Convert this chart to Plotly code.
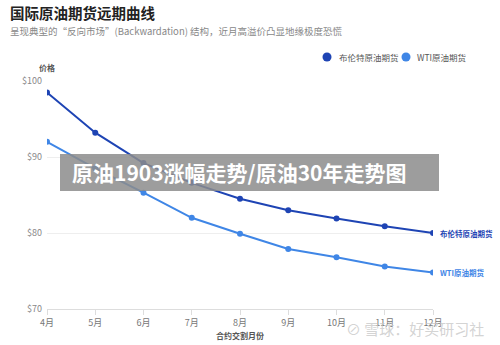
import plotly.graph_objects as go

months = ["4月", "5月", "6月", "7月", "8月", "9月", "10月", "11月", "12月"]
brent = [98.5, 93.2, 89.2, 86.6, 84.5, 83.0, 81.9, 80.9, 80.0]
wti = [92.0, 88.5, 85.3, 82.0, 79.9, 77.9, 76.8, 75.6, 74.8]
y_ticks = [70, 80, 90, 100]
y_tick_labels = ["$70", "$80", "$90", "$100"]
series_names = ["布伦特原油期货", "WTI原油期货"]

BRENT_C = "#1e44b4"
WTI_C = "#3f86e6"
FONT = "Noto Sans CJK SC"
PW, PH, L, T = 386, 228, 47, 81


def px(x):
    return (x - L) / PW


def py(y):
    return 1 - (y - T) / PH


fig = go.Figure()
fig.add_trace(go.Scatter(x=months, y=brent, mode="lines+markers", name=series_names[0],
                         line=dict(color=BRENT_C, width=2), marker=dict(size=6, color=BRENT_C),
                         showlegend=False))
fig.add_trace(go.Scatter(x=months, y=wti, mode="lines+markers", name=series_names[1],
                         line=dict(color=WTI_C, width=2), marker=dict(size=6, color=WTI_C),
                         showlegend=False))

# custom legend (top right)
for cx, tx, name, col in [(327, 337, series_names[0], BRENT_C), (406, 415, series_names[1], WTI_C)]:
    fig.add_shape(type="circle", xref="paper", yref="paper",
                  x0=px(cx - 4.5), x1=px(cx + 4.5), y0=py(57 + 4.5), y1=py(57 - 4.5),
                  fillcolor=col, line=dict(width=0))
    fig.add_annotation(xref="paper", yref="paper", x=px(tx), y=py(57), text=name,
                       showarrow=False, xanchor="left", yanchor="middle",
                       font=dict(size=8.5, color="#555555", family=FONT))

# end labels
fig.add_annotation(x=months[-1], y=brent[-1], text="<b>" + series_names[0] + "</b>", showarrow=False,
                   xanchor="left", xshift=5, font=dict(size=7.5, color=BRENT_C, family=FONT))
fig.add_annotation(x=months[-1], y=wti[-1], text="<b>" + series_names[1] + "</b>", showarrow=False,
                   xanchor="left", xshift=5, font=dict(size=7.5, color=WTI_C, family=FONT))

# titles
fig.add_annotation(xref="paper", yref="paper", x=px(8), y=py(12),
                   text="<b>国际原油期货远期曲线</b>", showarrow=False, xanchor="left", yanchor="middle",
                   font=dict(size=14.5, color="#222222", family=FONT))
fig.add_annotation(xref="paper", yref="paper", x=px(8), y=py(31),
                   text="呈现典型的“反向市场”(Backwardation) 结构，近月高溢价凸显地缘极度恐慌",
                   showarrow=False, xanchor="left", yanchor="middle",
                   font=dict(size=9.5, color="#888888", family=FONT))
fig.add_annotation(xref="paper", yref="paper", x=0, y=py(68),
                   text="<b>价格</b>", showarrow=False, xanchor="center", yanchor="middle",
                   font=dict(size=8, color="#555555", family=FONT))

# overlay banner
fig.add_shape(type="rect", xref="paper", yref="paper",
              x0=px(60), x1=px(439), y0=py(191), y1=py(154),
              fillcolor="rgba(140,140,140,0.85)", line=dict(width=0), layer="above")
fig.add_annotation(xref="paper", yref="paper", x=px(70), y=py(172),
                   text="<b>原油1903涨幅走势/原油30年走势图</b>", showarrow=False,
                   xanchor="left", yanchor="middle",
                   font=dict(size=21, color="white", family=FONT))
# watermark
fig.add_annotation(xref="paper", yref="paper", x=px(486), y=py(328),
                   text="⊘ 雪球：好买研习社", showarrow=False, xanchor="right", yanchor="middle",
                   font=dict(size=15, color="rgba(200,200,200,0.8)", family=FONT))

fig.update_layout(
    width=500, height=345,
    margin=dict(l=47, r=67, t=81, b=36, autoexpand=False),
    paper_bgcolor="white", plot_bgcolor="white",
    font=dict(family=FONT, size=9, color="#777777"),
    showlegend=False,
    xaxis=dict(showgrid=False, showline=True, linecolor="#dddddd", ticks="outside",
               ticklen=5, tickcolor="#dddddd", tickfont=dict(size=9, color="#777777"),
               range=[0, 8],
               title=dict(text="<b>合约交割月份</b>", font=dict(size=8, color="#555555"), standoff=5)),
    yaxis=dict(range=[70, 100], tickvals=y_ticks, ticktext=y_tick_labels, showgrid=True,
               gridcolor="#eeeeee", zeroline=False, showline=False,
               tickfont=dict(size=9, color="#888888"), ticks="", ticklabelstandoff=4),
)

fig.write_html("out.html")
